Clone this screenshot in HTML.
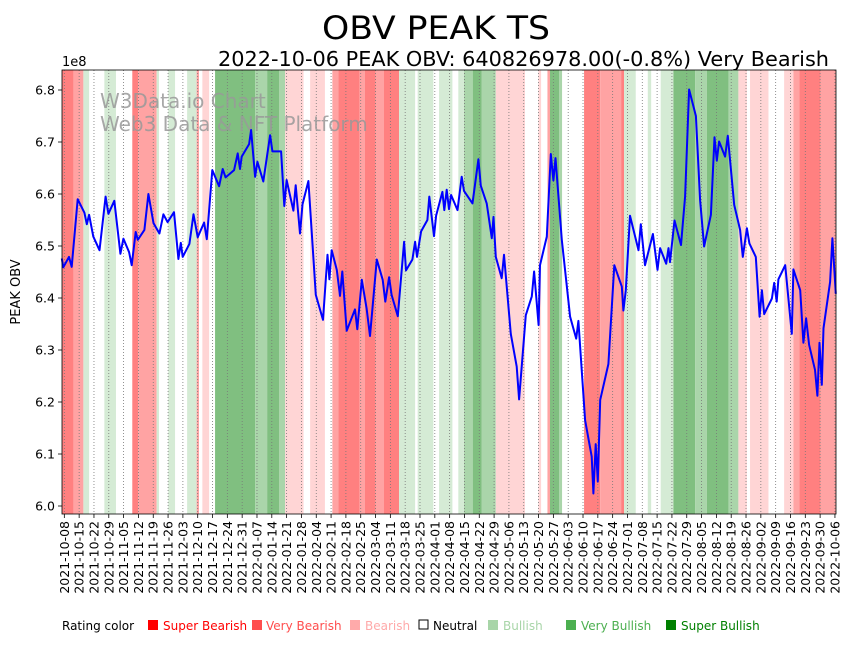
<!DOCTYPE html>
<html><head><meta charset="utf-8">
<style>
body{margin:0;background:#fff;font-family:"Liberation Sans","DejaVu Sans",sans-serif;}
svg text{font-family:"DejaVu Sans","Liberation Sans",sans-serif;}
</style></head>
<body>
<svg id="chart" width="855" height="641" xmlns="http://www.w3.org/2000/svg">
<text x="322" y="39" font-size="32" textLength="228" lengthAdjust="spacingAndGlyphs">OBV PEAK TS</text>
<text x="218" y="66" font-size="20" textLength="611" lengthAdjust="spacingAndGlyphs">2022-10-06 PEAK OBV: 640826978.00(-0.8%) Very Bearish</text>
<text x="62" y="66" font-size="13">1e8</text>
<text transform="translate(20,292) rotate(-90)" font-size="13" text-anchor="middle">PEAK OBV</text>
<g id="bands"></g><g id="grid"></g>
<text x="100" y="108" font-size="20" fill="#999" fill-opacity="0.85">W3Data.io Chart</text>
<text x="100" y="131" font-size="20" fill="#999" fill-opacity="0.85">Web3 Data &amp; NFT Platform</text>
<g id="line"></g><g id="axes"></g>
<g font-size="12">
<text x="62" y="630">Rating color</text>
<rect x="148" y="620" width="10" height="10" fill="#ff0000"/><text x="163" y="630" fill="#ff0000">Super Bearish</text>
<rect x="252" y="620" width="10" height="10" fill="#ff4d4d"/><text x="266" y="630" fill="#ff4d4d">Very Bearish</text>
<rect x="350" y="620" width="10" height="10" fill="#ffaaaa"/><text x="365" y="630" fill="#ffaaaa">Bearish</text>
<rect x="419" y="620" width="9" height="9" fill="#fff" stroke="#000"/><text x="433" y="630">Neutral</text>
<rect x="488" y="620" width="10" height="10" fill="#a8d5a8"/><text x="503" y="630" fill="#a8d5a8">Bullish</text>
<rect x="566" y="620" width="10" height="10" fill="#4caf50"/><text x="581" y="630" fill="#4caf50">Very Bullish</text>
<rect x="666" y="620" width="10" height="10" fill="#008000"/><text x="681" y="630" fill="#008000">Super Bullish</text>
</g>
</svg>
<script>
const days=[-1.2,-0.5,2.2,3.5,6.3,9.5,10.6,11.7,13.7,16.6,19.5,20.8,23.6,26.5,27.9,30.6,31.8,33.7,34.7,37.8,39.7,42.1,44.9,46.8,48.8,51.8,53.9,55.0,55.9,59.1,61.0,63.0,66.0,67.3,69.9,73.1,74.8,76.2,80.2,81.9,83.0,83.8,87.3,88.2,90.1,91.2,94.0,97.2,98.3,102.4,103.9,105.0,108.2,109.3,111.3,112.5,115.3,118.8,122.2,124.3,125.2,126.3,128.7,130.2,131.3,133.4,137.3,138.4,140.5,142.8,144.4,147.6,150.4,151.6,153.4,154.6,157.5,160.5,161.4,164.4,165.7,166.6,168.5,171.5,172.4,174.6,175.6,178.6,179.5,180.6,181.7,182.7,185.7,187.7,188.8,192.8,195.6,196.7,199.5,201.9,202.7,203.8,206.6,207.7,210.9,213.7,214.8,218.0,220.8,221.9,224.0,224.7,227.9,229.8,231.0,232.0,235.0,238.9,241.8,242.8,246.0,249.1,249.9,251.0,252.0,253.1,257.0,259.8,263.3,264.1,265.2,267.2,271.2,272.3,274.3,278.0,280.2,281.4,284.3,285.4,286.1,288.2,291.3,293.2,295.1,298.3,300.3,302.2,305.4,307.1,308.2,309.3,312.1,313.4,316.4,319.2,320.5,322.4,323.6,326.6,328.4,329.5,330.6,334.2,335.3,336.5,337.3,340.5,343.6,344.4,347.6,349.1,350.4,351.8,354.6,355.7,356.7,357.8,358.6,361.7,362.8,364.4];
const obv=[6.476,6.459,6.479,6.460,6.590,6.564,6.542,6.560,6.518,6.492,6.595,6.562,6.587,6.485,6.514,6.488,6.463,6.527,6.512,6.531,6.600,6.544,6.524,6.561,6.546,6.565,6.475,6.506,6.479,6.504,6.561,6.517,6.545,6.513,6.646,6.615,6.648,6.632,6.646,6.678,6.648,6.672,6.696,6.723,6.633,6.662,6.624,6.713,6.682,6.682,6.577,6.627,6.568,6.617,6.524,6.580,6.625,6.406,6.358,6.483,6.436,6.492,6.454,6.404,6.451,6.337,6.378,6.340,6.435,6.380,6.327,6.474,6.435,6.393,6.440,6.406,6.365,6.508,6.453,6.474,6.508,6.479,6.528,6.550,6.595,6.519,6.558,6.604,6.569,6.608,6.571,6.598,6.569,6.633,6.606,6.582,6.667,6.616,6.582,6.515,6.556,6.479,6.438,6.483,6.331,6.268,6.205,6.367,6.403,6.451,6.348,6.463,6.518,6.677,6.626,6.669,6.512,6.364,6.322,6.356,6.165,6.095,6.024,6.119,6.047,6.204,6.273,6.463,6.422,6.376,6.415,6.558,6.492,6.542,6.463,6.523,6.454,6.496,6.466,6.496,6.469,6.549,6.502,6.595,6.801,6.750,6.588,6.499,6.560,6.709,6.664,6.701,6.672,6.712,6.579,6.531,6.479,6.534,6.505,6.479,6.364,6.415,6.369,6.399,6.429,6.393,6.436,6.463,6.331,6.455,6.415,6.314,6.361,6.310,6.262,6.212,6.314,6.233,6.342,6.431,6.515,6.408];
const bandStart=[-1.2,4.3,9.0,18.9,32.1,34.9,43.6,49.1,58.0,62.5,65.2,71.2,90.1,95.8,101.4,104.3,116.1,126.6,129.4,139.4,142.0,147.1,151.0,158.1,166.9,177.0,186.1,188.8,192.9,197.2,203.8,223.9,228.2,229.4,233.8,245.5,253.1,263.0,264.4,275.6,281.7,287.7,298.0,303.5,313.7,318.4,323.9,340.0,344.4,347.2,357.3];
const bandEnd=[4.3,9.0,11.7,24.4,34.9,43.6,44.7,52.3,62.5,63.6,68.4,90.1,95.8,101.4,104.3,113.0,123.1,129.4,139.4,142.0,147.1,151.0,158.1,165.7,174.3,183.3,188.8,192.9,197.2,203.8,217.6,225.2,229.4,233.8,235.1,253.1,263.0,264.4,269.9,277.2,287.7,298.0,303.5,313.7,318.4,322.4,332.6,344.4,347.2,357.3,365];
const bandRating=[0,1,4,4,0,1,4,4,4,1,2,6,5,6,5,2,2,1,0,1,0,1,0,4,4,4,4,5,6,5,2,2,1,6,5,0,1,0,4,4,4,6,5,6,5,2,2,2,1,0,1];
const yTicks=[6.0,6.1,6.2,6.3,6.4,6.5,6.6,6.7,6.8];
const startDate='2021-10-08';
const lastLabel='2022-10-06';
const ratingColors=['#ff8080','#ffa3a3','#ffd5d5','#ffffff','#d5ebd5','#aad5aa','#80bf80'];
const L=62,R=836,T=70,B=514,XMIN=-1.1,XMAX=364.5;
const X=d=>L+(d-XMIN)/(XMAX-XMIN)*(R-L);
const Y=v=>506-(v-6.0)*520;
const NS='http://www.w3.org/2000/svg';
function mk(tag,attrs,parent){const e=document.createElementNS(NS,tag);for(const k in attrs)e.setAttribute(k,attrs[k]);document.getElementById(parent).appendChild(e);return e;}
bandStart.forEach((s,i)=>{
  const x0=Math.max(L,X(s)),x1=Math.min(R,X(bandEnd[i]));
  const r=mk('rect',{x:x0,y:T,width:x1-x0,height:B-T,fill:ratingColors[bandRating[i]]},'bands');
  
  
});
const base=new Date(startDate+'T00:00:00Z');
for(let d=0;d<=364;d+=7){
  const x=X(d);
  const g=mk('line',{x1:x,x2:x,y1:T,y2:B,stroke:'#777','stroke-width':0.8,'stroke-dasharray':'1,2'},'grid');
  
  
  mk('line',{x1:x,x2:x,y1:B,y2:B+4,stroke:'#000','stroke-width':0.8},'axes');
  let dt=new Date(base.getTime()+d*86400000).toISOString().slice(0,10);
  if(d+7>364) dt=lastLabel;
  const t=mk('text',{transform:`translate(${x+4.5},${B+7}) rotate(-90)`,'font-size':12.5,'text-anchor':'end'},'axes');
  t.textContent=dt;
  
  
}
yTicks.forEach(v=>{
  const y=Y(v);
  mk('line',{x1:L-4,x2:L,y1:y,y2:y,stroke:'#000','stroke-width':0.8},'axes');
  const t=mk('text',{x:L-7,y:y+4.5,'font-size':12.5,'text-anchor':'end'},'axes');
  t.textContent=v.toFixed(1);
  
  
});
const fr=mk('rect',{x:L,y:T,width:R-L,height:B-T,fill:'none',stroke:'#000','stroke-width':0.8},'axes');


const pts=days.map((d,i)=>`${X(d).toFixed(1)},${Y(obv[i]).toFixed(1)}`).join(' ');
const pl=mk('polyline',{points:pts,fill:'none',stroke:'#0000ff','stroke-width':2,'stroke-linejoin':'round'},'line');


</script>
</body></html>
